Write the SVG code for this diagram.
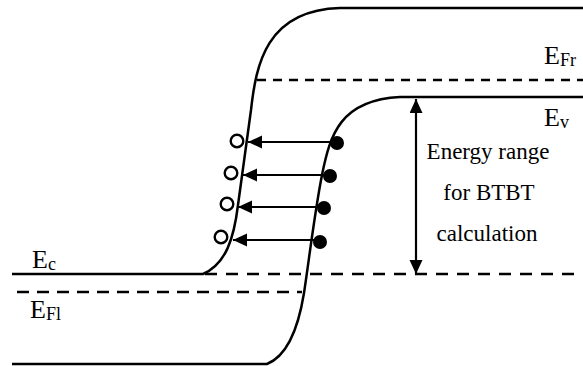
<svg xmlns="http://www.w3.org/2000/svg" width="583" height="366" viewBox="0 0 583 366">
<defs>
<style>
.band{fill:none;stroke:#000;stroke-width:2.5}
.dash{fill:none;stroke:#000;stroke-width:2.5}
.arr{stroke:#000;stroke-width:2.2;fill:none}
.hole{fill:#fff;stroke:#000;stroke-width:2.4}
.elec{fill:#000}
.lab{font-size:26px}
.sub{font-size:18px}
.note{font-size:23px;text-anchor:middle}
</style>
<marker id="ah" markerUnits="userSpaceOnUse" markerWidth="16" markerHeight="14" refX="14" refY="6.5" orient="auto-start-reverse">
<path d="M0,0 L14,6.5 L0,13 Z" fill="#000"/>
</marker>
</defs>
<rect width="583" height="366" fill="#fff"/>
<g id="conduction-band">
<path class="band" d="M12,274 H203 C226,264 234,238 238,205 C242,175 247,140 251,110 C256,65 266,10 340,8 H583"/>
</g>
<g id="valence-band">
<path class="band" d="M12,364 H267 C287,356 298,330 304,293 C309,260 315,210 322,175 C330,135 340,100 400,97 H583"/>
</g>
<g id="fermi-right">
<line class="dash" x1="257" y1="80" x2="583" y2="80" stroke-dasharray="9 7"/>
</g>
<g id="ec-level">
<line class="dash" x1="205" y1="274" x2="583" y2="274" stroke-dasharray="12 9"/>
</g>
<g id="fermi-left">
<line class="dash" x1="17" y1="292" x2="302" y2="292" stroke-dasharray="12 8"/>
</g>
<g id="connectors">
<line class="arr" x1="337" y1="142" x2="248" y2="142" marker-end="url(#ah)"/>
<line class="arr" x1="330" y1="175" x2="243" y2="175" marker-end="url(#ah)"/>
<line class="arr" x1="324" y1="207" x2="238" y2="207" marker-end="url(#ah)"/>
<line class="arr" x1="320" y1="240" x2="233" y2="240" marker-end="url(#ah)"/>
<line class="arr" x1="416" y1="99" x2="416" y2="274" marker-start="url(#ah)" marker-end="url(#ah)"/>
</g>
<g id="holes">
<circle class="hole" cx="237" cy="141" r="6.3"/>
<circle class="hole" cx="231" cy="173" r="6.3"/>
<circle class="hole" cx="227" cy="204" r="6.3"/>
<circle class="hole" cx="221" cy="237" r="6.3"/>
</g>
<g id="electrons">
<circle class="elec" cx="337" cy="143" r="7"/>
<circle class="elec" cx="330" cy="176" r="7"/>
<circle class="elec" cx="324" cy="208" r="7"/>
<circle class="elec" cx="320" cy="242" r="7"/>
</g>
<g id="labels" font-family="Liberation Serif, Times New Roman, serif" fill="#000">
<text class="lab" x="544" y="64">E<tspan class="sub" dy="2">Fr</tspan></text>
<text class="lab" x="544" y="126">E<tspan class="sub" dy="2">v</tspan></text>
<text class="lab" x="32" y="268">E<tspan class="sub" dy="2">c</tspan></text>
<text class="lab" x="30" y="318">E<tspan class="sub" dy="2">Fl</tspan></text>
</g>
<g id="range-note" font-family="Liberation Serif, Times New Roman, serif" fill="#000">
<text class="note" x="488" y="159">Energy range</text>
<text class="note" x="489" y="200">for BTBT</text>
<text class="note" x="487" y="241">calculation</text>
</g>
</svg>
